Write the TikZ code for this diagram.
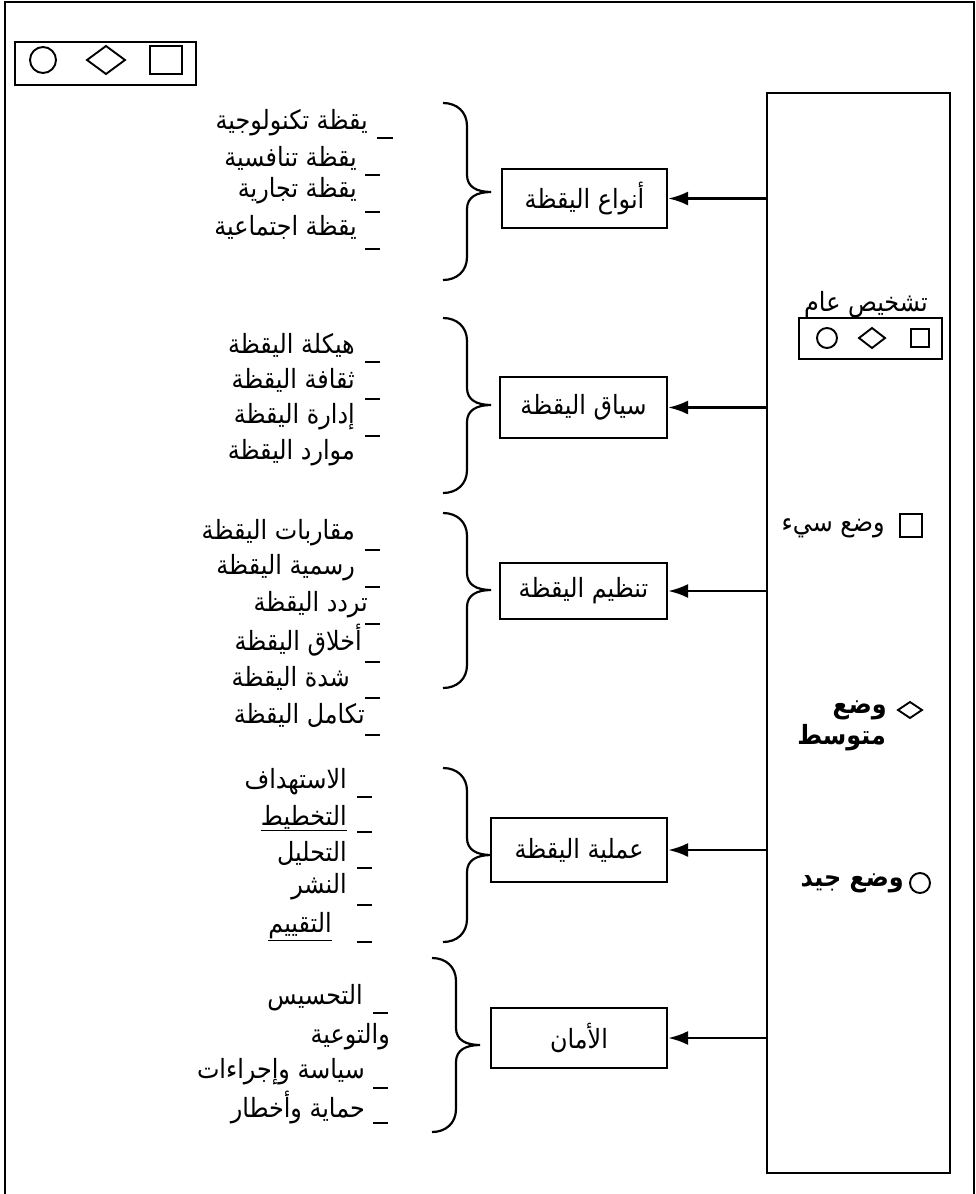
\documentclass[tikz,border=0pt]{standalone}
\usepackage{fontspec}
\newfontfamily\arabicfont[Script=Arabic, FakeStretch=0.9]{DejaVu Sans}
\TeXXeTstate=1
\usetikzlibrary{arrows.meta}
\newcommand{\artxt}[1]{\beginR #1\endR}
\newcommand{\curlybrace}[4]{%
 \draw[bracestyle] (#1,#2) .. controls ({#1+14},#2) and ({#1+24},{#2+9}) .. ({#1+24},{#2+23})
   -- ({#1+24},{#3-17}) .. controls ({#1+24},{#3-5}) and ({#1+34},#3) .. ({#1+48},#3)
   .. controls ({#1+34},#3) and ({#1+24},{#3+5}) .. ({#1+24},{#3+17})
   -- ({#1+24},{#4-23}) .. controls ({#1+24},{#4-9}) and ({#1+14},#4) .. (#1,#4);}
\begin{document}
\begin{tikzpicture}[x=1pt,y=-1pt,
  artext/.style={font=\fontsize{26.5}{30}\selectfont\arabicfont},
  boldtext/.style={font=\fontsize{26.5}{30}\selectfont\arabicfont\bfseries},
  box/.style={draw, line width=2.1pt, minimum height=59pt, inner sep=0pt, artext},
  item/.style={anchor=east, inner sep=0pt, artext},
  bullet/.style={line width=1.5pt},
  bracestyle/.style={line width=2.2pt},
  arr/.style={-{Latex[length=20pt,width=14pt]}, line width=2.8pt},
  shapeline/.style={line width=1.9pt}]
\useasboundingbox (0,0) rectangle (976,1194);
% outer frame
\draw[line width=2.4pt] (5,1194) -- (5,2) -- (974,2) -- (974,1194);
% top-left legend
\draw[shapeline] (15,42) rectangle (196,85);
\draw[shapeline] (43,60) circle (13);
\draw[shapeline] (87,60) -- (106,46) -- (125,60) -- (106,74) -- cycle;
\draw[shapeline] (150,46) rectangle (182,74);
% right panel
\node[draw, line width=2.4pt, minimum width=183pt, minimum height=1080pt, inner sep=0pt] (panel) at (858.5,633) {};
\node[artext, inner sep=0pt] (diag) at (866,305) {\artxt{تشخيص عام}};
\draw[shapeline] (799,318) rectangle (942,359);
\draw[shapeline] (827,338) circle (10);
\draw[shapeline] (859,338) -- (872,328) -- (885,338) -- (872,348) -- cycle;
\draw[shapeline] (911,329) rectangle (929,347);
\draw[shapeline] (900,514) rectangle (922,537);
\node[item] (bad) at (885,528) {\artxt{وضع سيء}};
\draw[shapeline] (898,710) -- (910,702) -- (922,710) -- (910,718) -- cycle;
\node[item, boldtext] (mid1) at (887,710) {\artxt{وضع}};
\node[item, boldtext] (mid2) at (886,738) {\artxt{متوسط}};
\draw[shapeline] (920,883) circle (10);
\node[item, boldtext] (good) at (904,883) {\artxt{وضع جيد}};
% boxes
\node[box, minimum width=165pt] (b1) at (584.5,198.5) {\artxt{أنواع اليقظة}};
\node[box, minimum width=167pt, minimum height=61pt] (b2) at (583.5,407.5) {\artxt{سياق اليقظة}};
\node[box, minimum width=167pt, minimum height=56pt] (b3) at (583.5,591) {\artxt{تنظيم اليقظة}};
\node[box, minimum width=176pt, minimum height=64pt] (b4) at (579,850) {\artxt{عملية اليقظة}};
\node[box, minimum width=176pt, minimum height=60pt] (b5) at (579,1038) {\artxt{الأمان}};
% arrows
\foreach \b in {b1,b2,b3,b4,b5} { \draw[arr] (panel.west |- \b.east) -- (\b.east); }
% braces
\curlybrace{443}{103}{192}{280}
\curlybrace{443}{318}{405}{493}
\curlybrace{443}{513}{590}{688}
\curlybrace{443}{768}{855}{942}
\curlybrace{432}{958}{1045}{1132}
% list 1
\node[item] (l1a) at (368,123) {\artxt{يقظة تكنولوجية}};
\node[item] (l1b) at (357,158) {\artxt{يقظة تنافسية}};
\node[item] (l1c) at (357,191) {\artxt{يقظة تجارية}};
\node[item] (l1d) at (357,227) {\artxt{يقظة اجتماعية}};
\draw[bullet] (377,138) -- (393,138);
\foreach \y in {175,212,249} { \draw[bullet] (365,\y) -- (380,\y); }
% list 2
\node[item] (l2a) at (355,345) {\artxt{هيكلة اليقظة}};
\node[item] (l2b) at (355,380) {\artxt{ثقافة اليقظة}};
\node[item] (l2c) at (355,417) {\artxt{إدارة اليقظة}};
\node[item] (l2d) at (355,453) {\artxt{موارد اليقظة}};
\foreach \y in {362,399,436} { \draw[bullet] (365,\y) -- (380,\y); }
% list 3
\node[item] (l3a) at (355,533) {\artxt{مقاربات اليقظة}};
\node[item] (l3b) at (355,568) {\artxt{رسمية اليقظة}};
\node[item] (l3c) at (368,605) {\artxt{تردد اليقظة}};
\node[item] (l3d) at (362,640) {\artxt{أخلاق اليقظة}};
\node[item] (l3e) at (350,678) {\artxt{شدة اليقظة}};
\node[item] (l3f) at (365,715) {\artxt{تكامل اليقظة}};
\foreach \y in {550,587,624,662,698,735} { \draw[bullet] (365,\y) -- (380,\y); }
% list 4
\node[item] (l4a) at (347,782) {\artxt{الاستهداف}};
\node[item] (l4b) at (347,818) {\underline{\hbox{\artxt{التخطيط}}}};
\node[item] (l4c) at (347,853) {\artxt{التحليل}};
\node[item] (l4d) at (347,887) {\artxt{النشر}};
\node[item] (l4e) at (332,927) {\underline{\hbox{\artxt{التقييم}}}};
\foreach \y in {797,832,868,905,942} { \draw[bullet] (357,\y) -- (372,\y); }
% list 5
\node[item] (l5a) at (363,998) {\artxt{التحسيس}};
\node[item] (l5b) at (390,1037) {\artxt{والتوعية}};
\node[item] (l5c) at (365,1072) {\artxt{سياسة وإجراءات}};
\node[item] (l5d) at (365,1107) {\artxt{حماية وأخطار}};
\foreach \y in {1013,1088,1123} { \draw[bullet] (373,\y) -- (388,\y); }
\end{tikzpicture}
\end{document}
